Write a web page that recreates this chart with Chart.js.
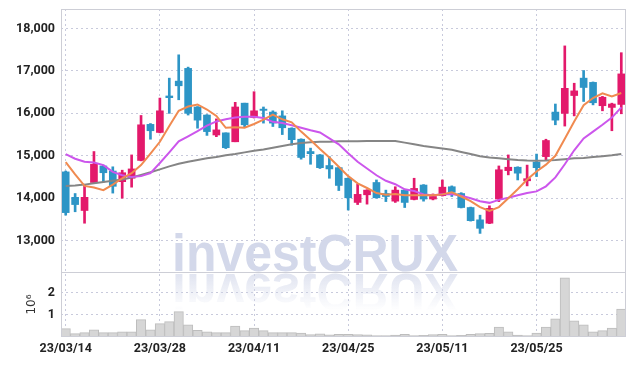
<!DOCTYPE html>
<html>
<head>
<meta charset="utf-8">
<script src="https://cdn.jsdelivr.net/npm/chart.js@4.4.0/dist/chart.umd.min.js"></script>
<style>
    html, body { margin: 0; padding: 0; background: #fff; }
    #box { width: 634px; height: 366px; }
</style>
</head>
<body>
<div id="box"><canvas id="grafico"></canvas></div>
<script>
const dates = [
    "23/03/14", "23/03/15", "23/03/16", "23/03/17", "23/03/20", "23/03/21", "23/03/22", "23/03/23", "23/03/24", "23/03/27",
    "23/03/28", "23/03/29", "23/03/30", "23/03/31", "23/04/03", "23/04/04", "23/04/05", "23/04/06", "23/04/07", "23/04/10",
    "23/04/11", "23/04/12", "23/04/13", "23/04/14", "23/04/17", "23/04/18", "23/04/19", "23/04/20", "23/04/21", "23/04/24",
    "23/04/25", "23/04/26", "23/04/27", "23/04/28", "23/05/02", "23/05/03", "23/05/04", "23/05/08", "23/05/09", "23/05/10",
    "23/05/11", "23/05/12", "23/05/15", "23/05/16", "23/05/17", "23/05/18", "23/05/19", "23/05/22", "23/05/23", "23/05/24",
    "23/05/25", "23/05/26", "23/05/30", "23/05/31", "23/06/01", "23/06/02", "23/06/05", "23/06/07", "23/06/08", "23/06/09"
];

const opens = [
    14620, 14020, 13710, 14370, 14760, 14640, 14390, 14470, 14890, 15740,
    15550, 16410, 16760, 17060, 16150, 15960, 15490, 15540, 15330, 16240,
    15900, 16100, 16030, 15940, 15650, 15390, 15100, 15020, 14770, 14720,
    14470, 13900, 14080, 14370, 14110, 13930, 14190, 13970, 14310, 13980,
    14060, 14270, 14110, 13780, 13490, 13410, 13980, 14650, 14730, 14410,
    14850, 14980, 16030, 16000, 16420, 16830, 16730, 16180, 16140, 16210
];
const highs = [
    14640, 14110, 14310, 15100, 14780, 14740, 14660, 15020, 15950, 15760,
    16360, 16830, 17380, 17090, 16160, 15970, 15870, 15540, 16260, 16240,
    16510, 16150, 16060, 16060, 15660, 15400, 15180, 15030, 14980, 14730,
    14480, 14330, 14200, 14430, 14190, 14270, 14200, 14470, 14320, 14100,
    14430, 14290, 14130, 13790, 13600, 13820, 14760, 15020, 14740, 14780,
    15040, 15390, 16220, 17590, 16710, 17010, 16740, 16400, 16240, 17430
];
const lows = [
    13600, 13680, 13410, 14370, 14380, 14120, 14000, 14260, 14880, 15390,
    15540, 16000, 16320, 15960, 15650, 15480, 15450, 15170, 15330, 15680,
    15890, 15770, 15690, 15500, 15250, 14920, 14800, 14700, 14470, 14180,
    13720, 13850, 13860, 14000, 13920, 13900, 13780, 13960, 13930, 13960,
    14050, 14040, 13770, 13460, 13170, 13400, 13920, 14550, 14430, 14290,
    14510, 14900, 15730, 15700, 15940, 16280, 16200, 16060, 15590, 15990
];
const closes = [
    13660, 13850, 14020, 14800, 14600, 14280, 14600, 14690, 15730, 15590,
    16060, 16370, 16650, 16000, 15840, 15570, 15610, 15190, 16150, 15730,
    16060, 16070, 15770, 15660, 15380, 14960, 15050, 14720, 14690, 14300,
    14010, 14090, 14190, 14010, 14040, 14190, 13900, 14230, 13980, 14040,
    14260, 14140, 13780, 13470, 13290, 13760, 14670, 14730, 14590, 14460,
    14720, 15360, 15840, 16590, 16530, 16610, 16250, 16380, 16220, 16930
];

const ma5 = [
    14850, 14560, 14290, 14250, 14190, 14320, 14470, 14590, 14780, 15050,
    15330, 15700, 16060, 16160, 16210, 16090, 15940, 15660, 15670, 15660,
    15750, 15850, 15970, 15860, 15790, 15570, 15370, 15160, 14960, 14740,
    14520, 14350, 14240, 14120, 14080, 14100, 14070, 14070, 14070, 14070,
    14090, 14140, 14040, 13930, 13790, 13700, 13790, 14000, 14210, 14440,
    14630, 14790, 15000, 15400, 15810, 16190, 16360, 16470, 16400, 16480
];
const ma10 = [
    15040, 14930, 14860, 14840, 14780, 14620, 14540, 14500, 14520, 14590,
    14830, 15080, 15340, 15460, 15580, 15710, 15810, 15860, 15900, 15920,
    15920, 15890, 15800, 15770, 15720, 15660, 15600, 15550, 15410, 15270,
    15060, 14860, 14700, 14540, 14410, 14330, 14210, 14170, 14090, 14070,
    14090, 14100, 14060, 14000, 13930, 13890, 13960, 14010, 14070, 14120,
    14160, 14280, 14490, 14800, 15130, 15410, 15570, 15730, 15900, 16140
];
const ma60 = [
    14290, 14300, 14320, 14350, 14380, 14410, 14440, 14490, 14550, 14610,
    14680, 14750, 14810, 14860, 14900, 14940, 14970, 15010, 15040, 15080,
    15120, 15150, 15190, 15230, 15270, 15300, 15320, 15330, 15330, 15340,
    15340, 15345, 15350, 15350, 15350, 15350, 15310, 15270, 15230, 15200,
    15170, 15140, 15090, 15040, 14990, 14960, 14940, 14920, 14900, 14890,
    14885, 14890, 14900, 14920, 14940, 14950, 14970, 14990, 15010, 15040
];

const volumes = [
    380000, 150000, 200000, 320000, 200000, 200000, 240000, 240000, 790000, 330000,
    610000, 700000, 1150000, 550000, 300000, 240000, 200000, 200000, 500000, 290000,
    410000, 290000, 200000, 200000, 200000, 180000, 110000, 140000, 100000, 120000,
    120000, 110000, 100000, 70000, 60000, 90000, 120000, 70000, 80000, 110000,
    120000, 70000, 80000, 120000, 150000, 170000, 450000, 240000, 90000, 60000,
    180000, 450000, 820000, 2680000, 730000, 550000, 240000, 290000, 410000, 1270000
];

const priceTicks = [13000, 14000, 15000, 16000, 17000, 18000];
const volumeTicks = [1000000, 2000000];

const upColor = "#e3196b";
const downColor = "#2d95c6";
const gridColor = "#c8cadc";
const tickFont = {
    family: "Roboto, 'DejaVu Sans Condensed', sans-serif",
    size: 12.5,
    weight: "bold"
};

const candleColors = opens.map(function (o, i) {
    return closes[i] >= o ? upColor : downColor;
});

// watermark with its reflection, under the candles
const watermark = {
    id: "watermark",
    beforeDatasetsDraw: function (chart) {
        const ctx = chart.ctx;
        const base = chart.scales.yv.top - 1;
        const text = "investCRUX";

        ctx.save();
        ctx.font = "bold 51px 'Liberation Sans', Arial, sans-serif";
        ctx.textAlign = "center";
        ctx.textBaseline = "alphabetic";
        const w = ctx.measureText(text).width;
        ctx.translate(315, base);
        ctx.scale(286 / w, 1);
        ctx.fillStyle = "rgb(211, 216, 234)";
        ctx.fillText(text, 0, 0);

        ctx.scale(1, -1);
        const fade = ctx.createLinearGradient(0, -2, 0, -40);
        fade.addColorStop(0, "rgba(211, 216, 234, 0.7)");
        fade.addColorStop(1, "rgba(211, 216, 234, 0)");
        ctx.fillStyle = fade;
        ctx.fillText(text, 0, -3);
        ctx.restore();
    }
};

const frame = {
    id: "frame",
    afterDraw: function (chart) {
        const ctx = chart.ctx;
        const area = chart.chartArea;
        const sep = Math.round(chart.scales.yv.top);

        ctx.save();
        ctx.strokeStyle = "#cdced6";
        ctx.lineWidth = 1;
        ctx.strokeRect(area.left + 0.5, area.top + 0.5, area.width - 1, area.height - 1);
        ctx.beginPath();
        ctx.moveTo(area.left, sep + 0.5);
        ctx.lineTo(area.right, sep + 0.5);
        ctx.stroke();
        ctx.restore();
    }
};

function lineSet(label, data, color) {
    return {
        type: "line",
        label: label,
        data: data,
        borderColor: color,
        borderWidth: 2,
        pointRadius: 0,
        tension: 0,
        yAxisID: "y",
        order: 0
    };
}

function fixLeftAxis(axis) {
    axis.width = 61;
    axis.paddingTop = 0;
    axis.paddingBottom = 0;
}

const ctx = document.getElementById("grafico");

new Chart(ctx, {
    type: "bar",
    data: {
        labels: dates,
        datasets: [
            lineSet("MA5", ma5, "#f08a50"),
            lineSet("MA10", ma10, "#cc56ec"),
            lineSet("MA60", ma60, "#858585"),
            {
                label: "wick",
                data: lows.map(function (l, i) { return [l, highs[i]]; }),
                backgroundColor: candleColors,
                barThickness: 2,
                grouped: false,
                yAxisID: "y",
                order: 2
            },
            {
                label: "body",
                data: opens.map(function (o, i) { return [o, closes[i]]; }),
                backgroundColor: candleColors,
                barThickness: 7,
                minBarLength: 1,
                grouped: false,
                yAxisID: "y",
                order: 1
            },
            {
                label: "volume",
                data: volumes,
                backgroundColor: "#d6d6d6",
                borderColor: "#bdbdbd",
                borderWidth: 1,
                barPercentage: 1,
                categoryPercentage: 1,
                grouped: false,
                yAxisID: "yv",
                order: 3
            }
        ]
    },
    options: {
        responsive: true,
        maintainAspectRatio: false,
        animation: false,
        layout: { padding: { top: 9, right: 8, left: 0, bottom: 0 } },
        plugins: {
            legend: { display: false },
            tooltip: { enabled: false }
        },
        scales: {
            x: {
                offset: true,
                afterFit: function (axis) { axis.height = 29; },
                grid: { offset: false, color: gridColor, drawTicks: false },
                border: { display: false, dash: [2, 3] },
                ticks: {
                    autoSkip: false,
                    maxRotation: 0,
                    padding: 4,
                    color: "#222",
                    font: tickFont,
                    callback: function (v, i) {
                        return i % 10 === 0 ? this.getLabelForValue(v) : null;
                    }
                }
            },
            yv: {
                stack: "panel",
                stackWeight: 65,
                min: 0,
                max: 2950000,
                afterBuildTicks: function (axis) {
                    axis.ticks = volumeTicks.map(function (v) { return { value: v }; });
                },
                afterFit: fixLeftAxis,
                grid: { color: gridColor, drawTicks: false },
                border: { display: false, dash: [2, 3] },
                title: {
                    display: true,
                    text: "10⁶",
                    color: "#333",
                    font: { family: "'DejaVu Sans', sans-serif", size: 12 },
                    padding: { top: 25, bottom: 0 }
                },
                ticks: {
                    padding: 6,
                    color: "#222",
                    font: tickFont,
                    callback: function (v) { return v / 1000000; }
                }
            },
            y: {
                stack: "panel",
                stackWeight: 263,
                min: 12260,
                max: 18460,
                afterBuildTicks: function (axis) {
                    axis.ticks = priceTicks.map(function (v) { return { value: v }; });
                },
                afterFit: fixLeftAxis,
                grid: { color: gridColor, drawTicks: false },
                border: { display: false, dash: [2, 3] },
                ticks: {
                    padding: 6,
                    color: "#222",
                    font: tickFont,
                    callback: function (v) { return v.toLocaleString("en-US"); }
                }
            }
        }
    },
    plugins: [watermark, frame]
});
</script>
</body>
</html>
